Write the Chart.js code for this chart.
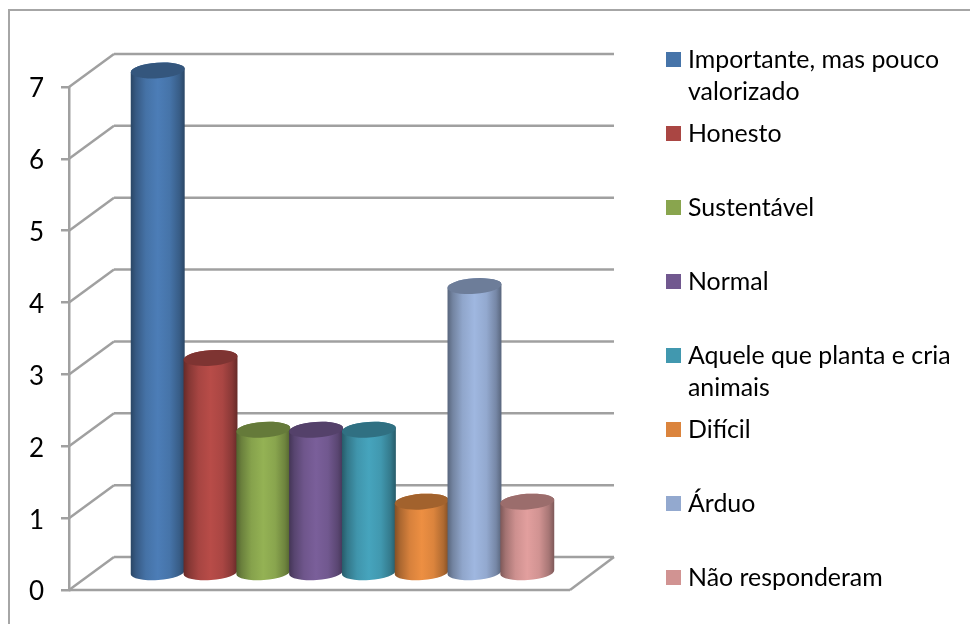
<!DOCTYPE html>
<html>
<head>
<meta charset="utf-8">
<title>Agricultor</title>
<script src="https://cdn.jsdelivr.net/npm/chart.js@4"></script>
<style>
    body { margin: 0; background: #fff; }
    canvas { display: block; }
</style>
</head>
<body>
<canvas id="grafico" width="970" height="624"></canvas>
<script>
let categorias = ['Importante, mas pouco valorizado', 'Honesto', 'Sustentável', 'Normal', 'Aquele que planta e cria animais', 'Difícil', 'Árduo', 'Não responderam'];
let legendaLinhas = [['Importante, mas pouco', 'valorizado'], ['Honesto'], ['Sustentável'], ['Normal'], ['Aquele que planta e cria', 'animais'], ['Difícil'], ['Árduo'], ['Não responderam']];
let valores = [7, 3, 2, 2, 2, 1, 4, 1];
let cores = ['#4674a9', '#aa4643', '#89a54e', '#71588f', '#4198af', '#db843d', '#93a9cf', '#d19392'];
let marcas = [0, 1, 2, 3, 4, 5, 6, 7];

let corLinha = '#a0a0a0';
let fonte = 'Lato, Carlito, sans-serif';
// depth of the 3D box, the columns stand halfway into it
let fundoX = 45;
let fundoY = -33;

// multiply each channel of a #rrggbb colour
function tom(hex, f) {
    let n = parseInt(hex.slice(1), 16);
    let c = [n >> 16, (n >> 8) & 255, n & 255].map(v => Math.min(255, Math.round(v * f)));
    return 'rgb(' + c.join(',') + ')';
}

function linha(ctx, x1, y1, x2, y2) {
    ctx.beginPath();
    ctx.moveTo(x1, y1);
    ctx.lineTo(x2, y2);
    ctx.stroke();
}

let caixa3d = {
    id: 'caixa3d',
    beforeDraw(chart) {
        let ctx = chart.ctx;
        ctx.save();
        ctx.strokeStyle = '#a6a6a6';
        ctx.lineWidth = 2;
        ctx.beginPath();
        ctx.moveTo(9, 624);
        ctx.lineTo(9, 10);
        ctx.lineTo(970, 10);
        ctx.stroke();
        ctx.restore();
    },
    beforeDatasetsDraw(chart) {
        let ctx = chart.ctx;
        let area = chart.chartArea;
        let y = chart.scales.y;
        ctx.save();
        ctx.strokeStyle = corLinha;
        ctx.lineWidth = 2.5;
        marcas.forEach(function(v) {
            let py = y.getPixelForValue(v);
            linha(ctx, area.left, py, area.left + fundoX, py + fundoY);
            linha(ctx, area.left + fundoX, py + fundoY, area.right + fundoX - 1, py + fundoY);
        });
        // floor edges
        linha(ctx, area.left, area.bottom, area.right, area.bottom);
        linha(ctx, area.right, area.bottom, area.right + fundoX - 1, area.bottom + fundoY);
        ctx.restore();
    },
    // the columns overlap left to right, so they are painted here instead of by the bar element
    beforeDatasetDraw() {
        return false;
    },
    afterDatasetsDraw(chart) {
        chart.data.datasets.forEach(function(ds, i) {
            let bar = chart.getDatasetMeta(i).data[0];
            cilindro(chart.ctx, bar.x + fundoX / 2 + 0.5, bar.y + fundoY / 2, bar.base + fundoY / 2, bar.width / 2, ds.backgroundColor);
        });
    }
};

function cilindro(ctx, cx, topo, base, raio, cor) {
    let giro = -0.07;
    let ry = 7.8;
    let g = ctx.createLinearGradient(cx - raio, 0, cx + raio, 0);
    g.addColorStop(0, tom(cor, 0.6));
    g.addColorStop(0.1, tom(cor, 0.78));
    g.addColorStop(0.28, tom(cor, 0.98));
    g.addColorStop(0.5, tom(cor, 1.08));
    g.addColorStop(0.72, tom(cor, 1));
    g.addColorStop(0.9, tom(cor, 0.8));
    g.addColorStop(1, tom(cor, 0.6));

    ctx.save();
    ctx.fillStyle = g;
    ctx.beginPath();
    ctx.ellipse(cx, base, raio, ry, giro, 0, Math.PI);
    ctx.ellipse(cx, topo, raio, ry, giro, Math.PI, Math.PI * 2);
    ctx.closePath();
    ctx.fill();

    ctx.fillStyle = tom(cor, 0.74);
    ctx.beginPath();
    ctx.ellipse(cx, topo, raio, ry, giro, 0, Math.PI * 2);
    ctx.fill();
    ctx.restore();
}

// legend with fixed row pitch, long names break onto a second line
let legendaLado = {
    id: 'legendaLado',
    afterDraw(chart) {
        let ctx = chart.ctx;
        ctx.save();
        ctx.font = '24.9px ' + fonte;
        ctx.textBaseline = 'middle';
        ctx.textAlign = 'left';
        legendaLinhas.forEach(function(linhas, i) {
            let y = 59.5 + i * 74;
            ctx.fillStyle = cores[i];
            ctx.fillRect(666, y - 7.5, 15, 15);
            ctx.fillStyle = '#000';
            linhas.forEach(function(txt, j) {
                ctx.fillText(txt, 688, y + j * 32);
            });
        });
        ctx.restore();
    }
};

let grafico = new Chart(document.querySelector('#grafico').getContext('2d'), {
    type: 'bar',
    data: {
        labels: [''],
        datasets: categorias.map(function(nome, i) {
            return { label: nome, data: [valores[i]], backgroundColor: cores[i], clip: false };
        })
    },
    options: {
        responsive: false,
        animation: false,
        categoryPercentage: 0.843,
        barPercentage: 1.024,
        layout: { padding: { top: 87, right: 400, bottom: 34, left: 0 } },
        plugins: {
            legend: { display: false },
            tooltip: { enabled: false }
        },
        scales: {
            x: { display: false },
            y: {
                min: 0,
                max: 7,
                afterFit(axis) { axis.width = 69; },
                border: { color: corLinha, width: 2.5 },
                grid: { drawOnChartArea: false, color: corLinha, lineWidth: 2.5, tickLength: 8 },
                ticks: { stepSize: 1, padding: 17, labelOffset: 2, color: '#000', font: { family: fonte, size: 26 } }
            }
        }
    },
    plugins: [caixa3d, legendaLado]
});
</script>
</body>
</html>
